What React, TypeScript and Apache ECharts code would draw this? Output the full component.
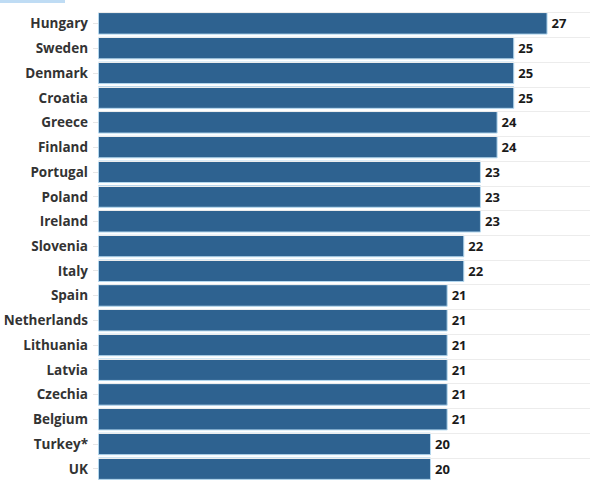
import React, { useEffect, useRef } from "react";
import * as echarts from "echarts";

const categories = [
  "Hungary", "Sweden", "Denmark", "Croatia", "Greece", "Finland", "Portugal",
  "Poland", "Ireland", "Slovenia", "Italy", "Spain", "Netherlands", "Lithuania",
  "Latvia", "Czechia", "Belgium", "Turkey*", "UK",
];
const values = [27, 25, 25, 25, 24, 24, 23, 23, 23, 22, 22, 21, 21, 21, 21, 21, 21, 20, 20];

export default function App() {
  const ref = useRef<HTMLDivElement>(null);
  useEffect(() => {
    document.body.style.margin = "0";
    const chart = echarts.init(ref.current!, undefined, { renderer: "svg" });
    chart.setOption({
      animation: false,
      backgroundColor: "#ffffff",
      textStyle: { fontFamily: "Open Sans" },
      grid: { left: 98, right: 10, top: 11, bottom: 0, containLabel: false },
      xAxis: {
        type: "value",
        min: 0,
        max: 29.55,
        show: false,
        splitLine: { show: false },
      },
      yAxis: {
        type: "category",
        data: categories,
        inverse: true,
        axisLine: { show: false },
        axisTick: { show: true, alignWithLabel: true, length: 5, lineStyle: { color: "#e6e6e6" } },
        axisLabel: {
          margin: 10,
          color: "#333333",
          fontWeight: "bold",
          fontSize: 13.5,
          fontFamily: "Open Sans",
        },
        splitLine: { show: false },
      },
      graphic: [
        {
          type: "rect",
          left: 0,
          top: 0,
          shape: { width: 65, height: 3 },
          style: { fill: "#bfdcf4" },
        },
      ],
      series: [
        {
          type: "bar",
          data: values.map(() => 0),
          z: 1,
          silent: true,
          markLine: {
            silent: true,
            symbol: "none",
            label: { show: false },
            lineStyle: { color: "#ececec", type: "solid", width: 1 },
            data: categories.map((c) => ({ yAxis: c })),
          },
        },
        {
          type: "bar",
          data: values,
          z: 3,
          barGap: "-100%",
          barWidth: 22.5,
          itemStyle: { color: "#2e6290", borderColor: "#b3d7ee", borderWidth: 1 },
          label: {
            show: true,
            position: "right",
            distance: 3,
            color: "#1a1a1a",
            fontWeight: "bold",
            fontSize: 13,
            fontFamily: "Open Sans",
            backgroundColor: "#ffffff",
            padding: [0, 2, 0, 1],
          },
        },
      ],
    });
    return () => chart.dispose();
  }, []);
  return <div ref={ref} style={{ width: 600, height: 481 }} />;
}
